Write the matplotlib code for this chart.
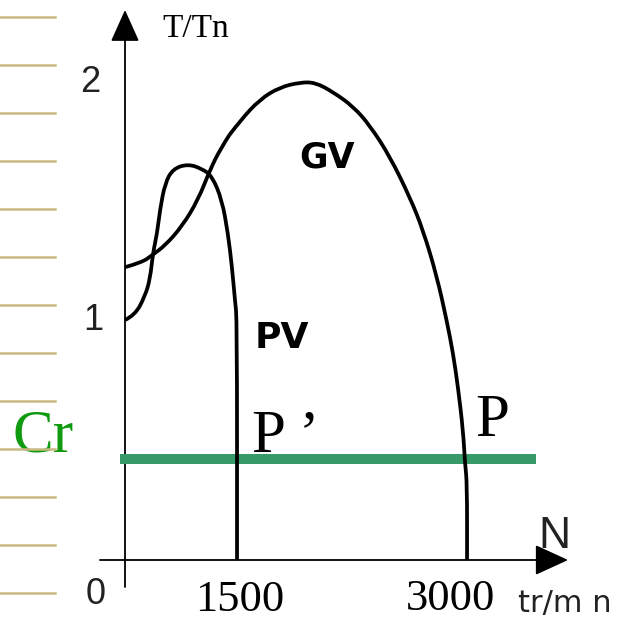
import numpy as np
import matplotlib
matplotlib.use("Agg")
import matplotlib.pyplot as plt
from matplotlib.lines import Line2D
from matplotlib.path import Path
from matplotlib.patches import PathPatch

# ---------------- data ----------------
# PV motor (petite vitesse) torque curve, N in tr/min, T/Tn
pv_speed = [0, 134, 268, 335, 375, 429, 469, 536, 643, 844, 1031, 1165,
            1299, 1379, 1433, 1473, 1500, 1500]
pv_torque = [1.00, 1.02, 1.10, 1.17, 1.28, 1.36, 1.46, 1.57, 1.63, 1.65,
             1.63, 1.60, 1.50, 1.36, 1.22, 1.08, 1.00, 0.00]

# GV motor (grande vitesse) torque curve
gv_speed = [0, 228, 362, 536, 763, 978, 1138, 1272, 1520, 1650, 1780, 1911,
            2009, 2126, 2257, 2367, 2498, 2628, 2713, 2804, 2870, 2909, 2941,
            2974, 2987, 3000, 3000]
gv_torque = [1.22, 1.24, 1.27, 1.31, 1.39, 1.50, 1.625, 1.71, 1.83, 1.92,
             1.97, 1.99, 1.99, 1.95, 1.89, 1.81, 1.68, 1.51, 1.375, 1.18,
             0.99, 0.86, 0.72, 0.54, 0.40, 0.32, 0.00]

# resistant torque Cr
cr_level = 0.42
cr_speed_range = [-70, 3450]

ytick_values = [2, 1, 0]
ytick_labels = ["2", "1", "0"]
xtick_values = [1500, 3000]
xtick_labels = ["1500", "3000"]

# ---------------- schematic (non-linear) speed axis ----------------
def fwd(n):
    n = np.asarray(n, dtype=float)
    return np.where(n <= 1500, n * 112 / 1500, 112 + (n - 1500) * 230 / 1500)

def inv(p):
    p = np.asarray(p, dtype=float)
    return np.where(p <= 112, p * 1500 / 112, 1500 + (p - 112) * 1500 / 230)


def smooth_path(xs, ys):
    """Quadratic-Bezier path using the read points as control points."""
    pts = list(zip(xs, ys))
    verts = [pts[0]]
    codes = [Path.MOVETO]
    for i in range(1, len(pts) - 1):
        mid = ((pts[i][0] + pts[i + 1][0]) / 2, (pts[i][1] + pts[i + 1][1]) / 2)
        verts += [pts[i], mid]
        codes += [Path.CURVE3, Path.CURVE3]
    verts.append(pts[-1])
    codes.append(Path.LINETO)
    return Path(verts, codes)


fig = plt.figure(figsize=(6.25, 6.2), dpi=100)
ax = fig.add_axes([0, 0, 1, 1])
ax.set_xscale('function', functions=(fwd, inv))
ax.set_xlim(-1674, 4030)
ax.set_ylim(-0.25, 560 / 240)
ax.axis('off')

# notebook-style tan lines at the left edge
for i in range(13):
    yp = 17 + 48 * i
    fig.add_artist(Line2D([0, 55 / 625], [1 - yp / 620] * 2,
                          transform=fig.transFigure, color='#C8B981', lw=1.8))

# axes with arrows
ax.annotate('', xy=(0, 2.2917), xytext=(0, -0.1125),
            arrowprops=dict(arrowstyle='-|>,head_length=1.0,head_width=0.45',
                            mutation_scale=20, lw=1.3, color='black',
                            shrinkA=0, shrinkB=0), zorder=2)
ax.annotate('', xy=(3659, 0), xytext=(-335, 0),
            arrowprops=dict(arrowstyle='-|>,head_length=1.05,head_width=0.48',
                            mutation_scale=20, lw=1.3, color='black',
                            shrinkA=0, shrinkB=0), zorder=2)

# Cr line
ax.plot(cr_speed_range, [cr_level, cr_level], color='#369B69', lw=7.2,
        solid_capstyle='butt', zorder=3)

# torque curves (smoothly drawn through the read points)
for xs, ys in ((pv_speed, pv_torque), (gv_speed, gv_torque)):
    ax.add_patch(PathPatch(smooth_path(xs, ys), facecolor='none',
                           edgecolor='black', lw=2.7, zorder=4,
                           joinstyle='round', capstyle='butt'))

# y tick labels
yoffs = {2: (-35, -2), 1: (-32, 0), 0: (-29, -35)}
for v, lab in zip(ytick_values, ytick_labels):
    ax.annotate(lab, xy=(0, v), xytext=yoffs[v], textcoords='offset pixels',
                ha='center', va='center', fontsize=26,
                family='Liberation Sans', color='#222222')

# x tick labels
xoffs = {1500: (3, -51), 3000: (-17, -50)}
for v, lab in zip(xtick_values, xtick_labels):
    ax.annotate(lab, xy=(v, 0), xytext=xoffs[v], textcoords='offset pixels',
                ha='center', va='baseline', fontsize=32,
                family='Liberation Serif', color='black')

# texts
ax.text(496, 2.179, 'T/Tn', family='Liberation Serif', fontsize=24,
        ha='left', va='baseline')
ax.text(2087, 1.675, 'GV', family='DejaVu Sans', fontweight='bold',
        fontsize=25, ha='center', va='center')
ax.text(1793, 0.925, 'PV', family='DejaVu Sans', fontweight='bold',
        fontsize=26, ha='center', va='center')
ax.text(-1500, 0.45, 'Cr', family='Liberation Serif', fontsize=44,
        color='#109A10', ha='left', va='baseline')
ax.text(1598, 0.45, 'P \u2019', family='Liberation Serif', fontsize=44,
        ha='left', va='baseline')
ax.text(3052, 0.517, 'P', family='Liberation Serif', fontsize=44,
        ha='left', va='baseline')
ax.text(3463, 0.05, 'N', family='Liberation Sans', fontsize=32,
        ha='left', va='baseline', color='#222222')
ax.annotate('tr/m n', xy=(3000, 0), xytext=(51, -52),
            textcoords='offset pixels', family='DejaVu Sans', fontsize=22,
            ha='left', va='baseline', color='#222222')

fig.savefig('out.png', dpi=100)
